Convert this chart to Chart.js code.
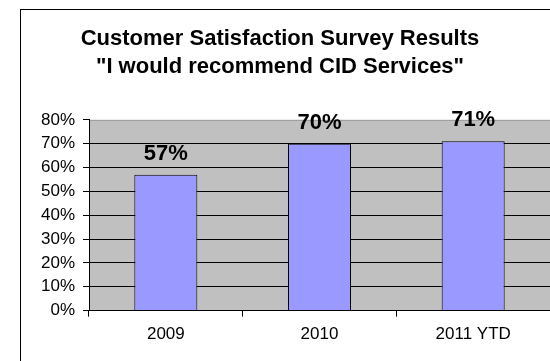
<!DOCTYPE html>
<html>
<head>
<meta charset="utf-8">
<script src="https://cdn.jsdelivr.net/npm/chart.js@4"></script>
<style>
html,body{margin:0;padding:0;background:#fff;}
#wrap{width:550px;height:361px;position:relative;}
</style>
</head>
<body>
<div id="wrap"><canvas id="c" width="550" height="361"></canvas></div>
<script>
const categories = ["2009", "2010", "2011 YTD"];
const satisfaction = [57, 70, 71];
const titleLines = ["Customer Satisfaction Survey Results", "\"I would recommend CID Services\""];
const yTicksMax = 80;
const yTickStep = 10;

const FONT = "'Liberation Sans', Arial, sans-serif";

const framePlugin = {
  id: 'frame',
  beforeDraw(chart) {
    const ctx = chart.ctx;
    const a = chart.chartArea;
    ctx.save();
    ctx.fillStyle = '#fff';
    ctx.fillRect(0, 0, chart.width, chart.height);
    ctx.strokeStyle = '#000';
    ctx.lineWidth = 1;
    ctx.strokeRect(20.5, 9.5, 700, 500);
    ctx.fillStyle = '#C0C0C0';
    ctx.fillRect(a.left, a.top, a.right - a.left, a.bottom - a.top);
    ctx.strokeStyle = '#9a9a9a';
    ctx.beginPath();
    ctx.moveTo(a.left, a.top + 0.5);
    ctx.lineTo(a.right, a.top + 0.5);
    ctx.stroke();
    ctx.restore();
  }
};

const labelPlugin = {
  id: 'valueLabels',
  afterDatasetsDraw(chart) {
    const ctx = chart.ctx;
    const meta = chart.getDatasetMeta(0);
    ctx.save();
    ctx.font = "bold 22px " + FONT;
    ctx.fillStyle = '#000';
    ctx.textAlign = 'center';
    ctx.textBaseline = 'middle';
    meta.data.forEach((bar, i) => {
      ctx.fillText(satisfaction[i] + '%', bar.x, bar.y - 21);
    });
    ctx.restore();
  }
};

new Chart(document.getElementById('c'), {
  type: 'bar',
  data: {
    labels: categories,
    datasets: [{
      data: satisfaction,
      backgroundColor: '#9999FF',
      borderColor: '#000',
      borderWidth: 1,
      barPercentage: 0.41,
      categoryPercentage: 1.0
    }]
  },
  options: {
    responsive: false,
    animation: false,
    devicePixelRatio: 1,
    layout: { padding: { left: 10, right: 0, top: 0, bottom: 8 } },
    plugins: {
      legend: { display: false },
      tooltip: { enabled: false },
      title: {
        display: true,
        text: titleLines,
        color: '#000',
        font: { family: FONT, size: 22, weight: 'bold', lineHeight: 1.27 },
        padding: { top: 25, bottom: 39 }
      }
    },
    scales: {
      x: {
        grid: { drawOnChartArea: false, color: '#000', tickLength: 6, offset: true },
        border: { color: '#000' },
        ticks: { color: '#000', font: { family: FONT, size: 17 }, padding: 8 }
      },
      y: {
        min: 0,
        max: yTicksMax,
        afterFit(scale) { scale.width = 79; },
        ticks: {
          stepSize: yTickStep,
          autoSkip: false,
          color: '#000',
          font: { family: FONT, size: 17 },
          padding: 8,
          callback: v => v + '%'
        },
        grid: {
          color: ctx => (ctx.tick && ctx.tick.value === yTicksMax) ? 'rgba(0,0,0,0)' : '#000',
          tickColor: '#000',
          tickLength: 6
        },
        border: { color: '#000' }
      }
    }
  },
  plugins: [framePlugin, labelPlugin]
});
</script>
</body>
</html>
